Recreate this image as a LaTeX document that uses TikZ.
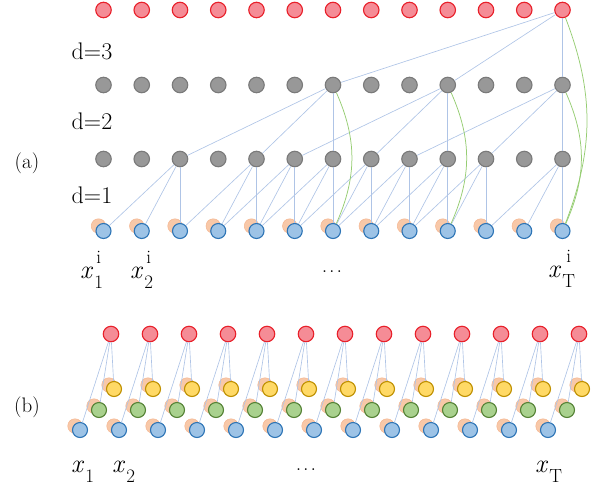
\documentclass[tikz,border=0pt]{standalone}
\usepackage{fontspec}
\newsavebox\subbox
\newcommand\xlab[2]{\textit{x}\hspace{1pt}\sbox\subbox{\fontsize{19}{19}\selectfont #1}\rlap{\raisebox{-10pt}{\usebox\subbox}}\makebox[\wd\subbox][c]{\raisebox{14.7pt}{\fontsize{19}{19}\selectfont #2}}}
\definecolor{redf}{RGB}{245,140,150}
\definecolor{redd}{RGB}{232,32,42}
\definecolor{grayf}{RGB}{152,152,152}
\definecolor{grayd}{RGB}{122,122,122}
\definecolor{bluef}{RGB}{157,195,230}
\definecolor{blued}{RGB}{46,117,182}
\definecolor{orf}{RGB}{248,200,168}
\definecolor{ord}{RGB}{244,182,145}
\definecolor{yelf}{RGB}{255,217,102}
\definecolor{yeld}{RGB}{191,144,0}
\definecolor{grnf}{RGB}{169,209,142}
\definecolor{grnd}{RGB}{84,130,53}
\definecolor{edgec}{RGB}{175,196,230}
\definecolor{skipc}{RGB}{150,205,115}
\tikzset{
  ball/.style={circle, inner sep=0pt, minimum size=15.5pt, line width=1.1pt},
  rednode/.style={ball, fill=redf, draw=redd},
  graynode/.style={ball, fill=grayf, draw=grayd},
  bluenode/.style={ball, fill=bluef, draw=blued, minimum size=15pt},
  ornode/.style={ball, fill=orf, draw=ord, line width=0.5pt, minimum size=14.5pt},
  yelnode/.style={ball, fill=yelf, draw=yeld, minimum size=15pt},
  grnnode/.style={ball, fill=grnf, draw=grnd, minimum size=15pt},
  conn/.style={draw=edgec, line width=0.65pt},
  skip/.style={draw=skipc, line width=0.75pt},
  dlabel/.style={font=\fontsize{24}{28}\selectfont, inner sep=0pt},
  plabel/.style={font=\fontsize{21}{25}\selectfont, inner sep=0pt},
  xlabel/.style={font=\fontsize{26}{30}\selectfont, inner sep=0pt, anchor=base west},
  dots/.style={font=\fontsize{22}{26}\selectfont, inner sep=0pt}
}
\begin{document}
\begin{tikzpicture}[x=1pt,y=1pt]
\useasboundingbox (0,0) rectangle (603,-491);
% ---------- (a) ----------
\foreach \k in {1,...,13}{
  \pgfmathsetmacro\xx{103.5+38.25*(\k-1)}
  \node[rednode] (ar\k) at (\xx,-10) {};
  \node[graynode] (ag\k) at (\xx,-85) {};
  \node[graynode] (ah\k) at (\xx,-159) {};
  \node[ornode] (ao\k) at ({\xx-5},-226) {};
  \node[bluenode] (ab\k) at (\xx,-231) {};
}
\foreach \k in {7,10,13} \draw[conn] (ar13) -- (ag\k);
\foreach \k in {7,10,13}{
  \pgfmathtruncatemacro\ka{\k-4}
  \pgfmathtruncatemacro\kb{\k-2}
  \draw[conn] (ag\k) -- (ah\ka);
  \draw[conn] (ag\k) -- (ah\kb);
  \draw[conn] (ag\k) -- (ah\k);
}
\foreach \k in {3,5,6,7,8,9,10,11,13}{
  \pgfmathtruncatemacro\ka{\k-2}
  \pgfmathtruncatemacro\kb{\k-1}
  \draw[conn] (ah\k) -- (ab\ka);
  \draw[conn] (ah\k) -- (ab\kb);
  \draw[conn] (ah\k) -- (ab\k);
}
\draw[skip] (ar13) to[bend left=21] (ab13);
\foreach \k in {7,10,13} \draw[skip] (ag\k) to[bend left=24] (ab\k);
\node[dlabel] (d3) at (92,-51) {d=3};
\node[dlabel] (d2) at (92,-121) {d=2};
\node[dlabel] (d1) at (92,-195) {d=1};
\node[plabel] (pa) at (27,-163) {(a)};
\node[xlabel] (xa1) at (80,-278) {\xlab{1}{i}};
\node[xlabel] (xa2) at (130,-278) {\xlab{2}{i}};
\node[xlabel] (xaT) at (548,-277) {\xlab{T}{i}};
\node[dots] (dta) at (332,-272) {.\hspace{2pt}.\hspace{2pt}.};
% ---------- (b) ----------
\foreach \k in {1,...,13}{
  \pgfmathsetmacro\xx{111+39*(\k-1)}
  \node[rednode] (br\k) at (\xx,-334) {};
  \node[ornode] (byo\k) at ({\xx-2},-385) {};
  \node[yelnode] (by\k) at ({\xx+3},-389) {};
  \node[ornode] (bgo\k) at ({\xx-17},-406) {};
  \node[grnnode] (bg\k) at ({\xx-12},-410) {};
  \node[ornode] (bbo\k) at ({\xx-36},-426) {};
  \node[bluenode] (bb\k) at ({\xx-31},-430) {};
  \draw[conn] (br\k) -- (by\k);
  \draw[conn] (br\k) -- (bg\k);
  \draw[conn] (br\k) -- (bb\k);
}
\node[plabel] (pb) at (27,-407) {(b)};
\node[xlabel] (xb1) at (71,-472) {\xlab{1}{}};
\node[xlabel] (xb2) at (112,-472) {\xlab{2}{}};
\node[xlabel] (xbT) at (535,-472) {\xlab{T}{}};
\node[dots] (dtb) at (306,-470) {.\hspace{2pt}.\hspace{2pt}.};
\end{tikzpicture}
\end{document}
